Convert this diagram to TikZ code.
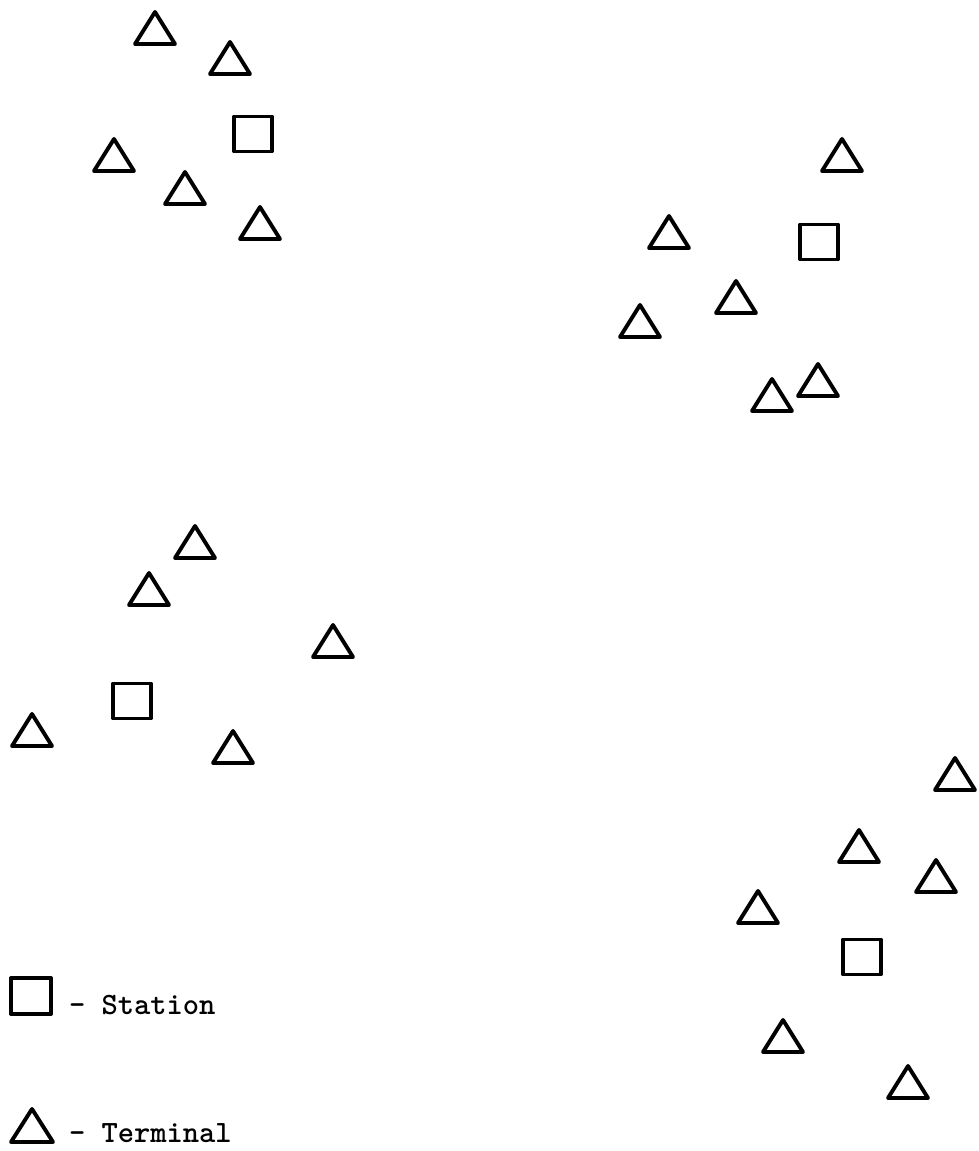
\documentclass[tikz,border=0pt]{standalone}
\usetikzlibrary{shapes.geometric}
\begin{document}
\begin{tikzpicture}[x=1pt,y=-1pt,line width=3.9pt,line join=round,
  terminal/.style={draw,isosceles triangle,isosceles triangle stretches,shape border rotate=90,minimum width=40pt,minimum height=32pt,inner sep=0pt,outer sep=0pt,anchor=apex},
  station/.style={draw,rectangle,minimum width=38pt,minimum height=35pt,inner sep=0pt},
  keytext/.style={anchor=base west,inner sep=0pt,outer sep=0pt,font=\fontsize{31}{36}\selectfont\ttfamily\bfseries}]
\useasboundingbox (0,0) rectangle (979,1151);
% upper left group
\node[terminal] (t1) at (155,12) {};
\node[terminal] (t2) at (230,42) {};
\node[station] (s1) at (253,134) {};
\node[terminal] (t3) at (114,139) {};
\node[terminal] (t4) at (185,172) {};
\node[terminal] (t5) at (260,207) {};
% upper right group
\node[terminal] (t6) at (842,139) {};
\node[terminal] (t7) at (669,216) {};
\node[station] (s2) at (819,242) {};
\node[terminal] (t8) at (736,281) {};
\node[terminal] (t9) at (640,305) {};
\node[terminal] (t10) at (772,379) {};
\node[terminal] (t11) at (818,364) {};
% lower left group
\node[terminal] (t12) at (195,526) {};
\node[terminal] (t13) at (149,573) {};
\node[terminal] (t14) at (333,625) {};
\node[station] (s3) at (132,701) {};
\node[terminal] (t15) at (32,714) {};
\node[terminal] (t16) at (233,731) {};
% lower right group
\node[terminal] (t17) at (955,758) {};
\node[terminal] (t18) at (859,830) {};
\node[terminal] (t19) at (936,860) {};
\node[terminal] (t20) at (758,891) {};
\node[station] (s4) at (862,957) {};
\node[terminal] (t21) at (783,1020) {};
\node[terminal] (t22) at (908,1066) {};
% legend
\node[station,minimum width=40pt,minimum height=36pt] (keys) at (31,996) {};
\node[keytext] (keystext) at (69,1014) {- Station};
\node[terminal,minimum width=42pt,minimum height=33pt] (keyt) at (32,1109) {};
\node[keytext] (keyttext) at (69,1142) {- Terminal};
\end{tikzpicture}
\end{document}
